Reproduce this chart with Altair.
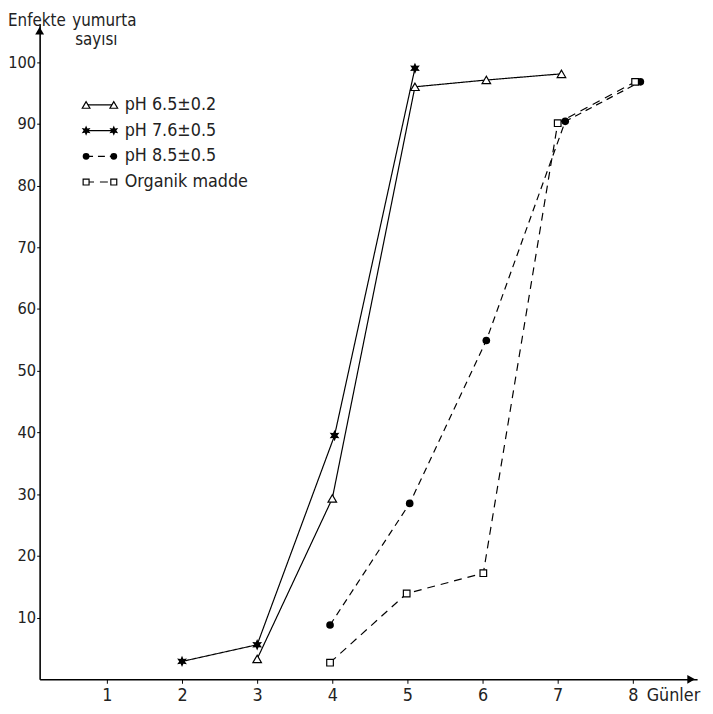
import math
import altair as alt
import pandas as pd

# ---- data ----
days_65 = [3.0, 4.0, 5.1, 6.05, 7.05]
vals_65 = [3.3, 29.3, 96.0, 97.1, 98.1]
days_76 = [2.0, 3.0, 4.03, 5.1]
vals_76 = [2.9, 5.6, 39.5, 99.0]
days_85 = [3.97, 5.03, 6.05, 7.1, 8.1]
vals_85 = [8.8, 28.5, 54.9, 90.4, 96.8]
days_om = [3.97, 4.99, 6.01, 7.0, 8.03]
vals_om = [2.7, 13.9, 17.2, 90.1, 96.8]
series_names = ["pH 6.5±0.2", "pH 7.6±0.5", "pH 8.5±0.5", "Organik madde"]
x_ticks = [1, 2, 3, 4, 5, 6, 7, 8]
y_ticks = [10, 20, 30, 40, 50, 60, 70, 80, 90, 100]
y_title_1 = "Enfekte"
y_title_2 = "yumurta"
y_title_3 = "sayısı"
x_title = "Günler"

W, H = 665, 663
FONT = "DejaVu Sans Condensed, Liberation Sans Narrow, DejaVu Sans, sans-serif"

# six-pointed star path
pts = []
for k in range(12):
    r = 1.0 if k % 2 == 0 else 0.5
    a = math.radians(-90 + 30 * k)
    pts.append(f"{r*math.cos(a):.3f},{r*math.sin(a):.3f}")
STAR = "M" + "L".join(pts) + "Z"

styles = [
    dict(shape="triangle-up", filled=False, size=75, dash=[1, 0]),
    dict(shape=STAR, filled=True, size=130, dash=[1, 0]),
    dict(shape="circle", filled=True, size=60, dash=[7, 5]),
    dict(shape="square", filled=False, size=45, dash=[8, 6]),
]
data = [(days_65, vals_65), (days_76, vals_76), (days_85, vals_85), (days_om, vals_om)]

xs = alt.Scale(domain=[0.105, 8.855], nice=False, zero=False)
ys = alt.Scale(domain=[0, 106.2], nice=False)

x_axis = alt.Axis(values=x_ticks, format="d", title=None, grid=False, domainColor="black",
                  domainWidth=1.6, tickColor="black", tickSize=4, labelPadding=3,
                  labelFontSize=18, labelFont=FONT, labelColor="#222")
y_axis = alt.Axis(values=y_ticks, format="d", title=None, grid=False, domainColor="black",
                  domainWidth=1.6, tickColor="black", tickSize=3, labelPadding=1,
                  labelFontSize=16.5, labelFont=FONT, labelColor="#222")

layers = []
for i, ((dx, dy), st) in enumerate(zip(data, styles)):
    df = pd.DataFrame({"gun": dx, "sayi": dy, "seri": series_names[i]})
    enc = dict(
        x=alt.X("gun:Q", scale=xs, axis=x_axis),
        y=alt.Y("sayi:Q", scale=ys, axis=y_axis),
    )
    layers.append(alt.Chart(df).mark_line(color="black", strokeWidth=1.2,
                                          strokeDash=st["dash"]).encode(**enc))
    layers.append(alt.Chart(df).mark_point(shape=st["shape"], filled=st["filled"],
                                           size=st["size"], color="black", opacity=1,
                                           strokeWidth=1.2, fill="white" if not st["filled"] else "black"
                                           ).encode(**enc))

one = pd.DataFrame({"k": [0]})

# arrow heads on axes
layers.append(alt.Chart(one).mark_point(shape="triangle-up", filled=True, color="black",
                                        size=80, opacity=1).encode(
    x=alt.value(0), y=alt.value(7)))
layers.append(alt.Chart(one).mark_point(shape="triangle-right", filled=True, color="black",
                                        size=80, opacity=1).encode(
    x=alt.value(W - 6), y=alt.value(H)))

# legend
leg_y0, leg_dy = 82, 26
for i, st in enumerate(styles):
    yy = leg_y0 + i * leg_dy
    layers.append(alt.Chart(one).mark_rule(color="black", strokeWidth=1.2,
                                           strokeDash=st["dash"]).encode(
        x=alt.value(47), x2=alt.value(75), y=alt.value(yy)))
    for xx in (47, 75):
        layers.append(alt.Chart(one).mark_point(shape=st["shape"], filled=st["filled"],
                                                size=st["size"] * 0.8, color="black", opacity=1,
                                                strokeWidth=1.2,
                                                fill="white" if not st["filled"] else "black").encode(
            x=alt.value(xx), y=alt.value(yy)))
    layers.append(alt.Chart(one).mark_text(text=series_names[i], align="left", baseline="middle",
                                           font=FONT, fontSize=18, color="#222").encode(
        x=alt.value(86), y=alt.value(yy)))

# axis titles as text
layers.append(alt.Chart(one).mark_text(text=y_title_1, align="left", baseline="alphabetic",
                                       font=FONT, fontSize=17, color="#222").encode(
    x=alt.value(-32), y=alt.value(2)))
layers.append(alt.Chart(one).mark_text(text=y_title_2, align="left", baseline="alphabetic",
                                       font=FONT, fontSize=17, color="#222").encode(
    x=alt.value(33), y=alt.value(2)))
layers.append(alt.Chart(one).mark_text(text=y_title_3, align="left", baseline="alphabetic",
                                       font=FONT, fontSize=17, color="#222").encode(
    x=alt.value(36), y=alt.value(21)))
layers.append(alt.Chart(one).mark_text(text=x_title, align="left", baseline="alphabetic",
                                       font=FONT, fontSize=18, color="#222").encode(
    x=alt.value(614), y=alt.value(H + 22)))

chart = alt.layer(*layers).properties(
    width=W, height=H,
    autosize=alt.AutoSizeParams(type="none"),
    padding={"left": 32, "top": 12, "right": 8, "bottom": 26},
    background="white",
).configure_view(stroke=None)

chart.save("out.html", embed_options={"renderer": "svg", "actions": False})
